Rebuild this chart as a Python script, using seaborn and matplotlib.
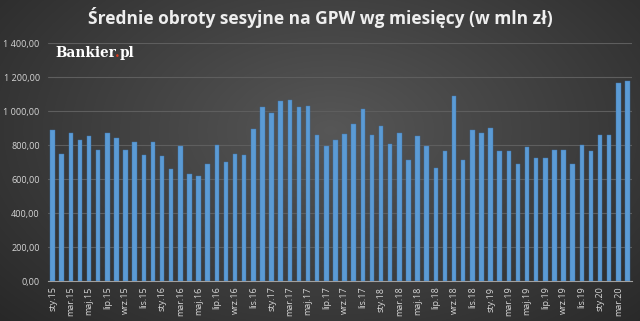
import numpy as np
import pandas as pd
import matplotlib
matplotlib.use("Agg")
import matplotlib.pyplot as plt
import seaborn as sns

months_pl = ["sty", "lut", "mar", "kwi", "maj", "cze", "lip", "sie", "wrz", "paź", "lis", "gru"]
years = ["15", "16", "17", "18", "19", "20"]
categories = [f"{m}.{y}" for y in years for m in months_pl][:64]

values = [888, 747, 870, 827, 855, 769, 870, 843, 769, 818, 741, 818,
          735, 657, 794, 627, 618, 688, 800, 700, 747, 743, 894, 1022,
          988, 1061, 1065, 1022, 1027, 859, 792, 827, 865, 924, 1012, 861,
          910, 806, 871, 710, 851, 792, 667, 763, 1090, 712, 886, 871,
          900, 763, 763, 686, 786, 724, 724, 769, 769, 690, 798, 765,
          861, 861, 1165, 1175]

yticks = [0, 200, 400, 600, 800, 1000, 1200, 1400]
ytick_labels = ["0,00", "200,00", "400,00", "600,00", "800,00", "1 000,00", "1 200,00", "1 400,00"]

df = pd.DataFrame({"miesiac": categories, "obroty": values})

sns.set_theme(style="dark")
plt.rcParams['font.family'] = ['Open Sans', 'DejaVu Sans']

fig = plt.figure(figsize=(6.4, 3.21), dpi=100)

# background radial gradient
bg = fig.add_axes([0, 0, 1, 1], zorder=-1)
yy, xx = np.mgrid[0:321, 0:640]
r = np.sqrt(((xx - 330) / 420.0) ** 2 + ((yy - 130) / 260.0) ** 2)
val = np.clip(0.34 - 0.17 * r, 0.16, 0.34)
img = np.dstack([val, val, val])
bg.imshow(img, aspect="auto", extent=[0, 1, 0, 1])
bg.set_axis_off()

ax = fig.add_axes([0.075, 0.1246, 0.9125, 0.7414])
ax.set_facecolor((0, 0, 0, 0))

sns.barplot(data=df, x="miesiac", y="obroty", color="#5b9bd5", width=0.48,
            saturation=1, ax=ax, zorder=3, edgecolor="#3f78b0", linewidth=0.3)

ax.set_ylim(0, 1400)
ax.set_xlim(-0.5, len(categories) - 0.5)
ax.set_yticks(yticks)
ax.set_yticklabels(ytick_labels)
for t in yticks[1:]:
    ax.axhline(t, color="#5e5e5e", linewidth=0.8, zorder=1)

ax.set_xticks(range(0, len(categories), 2))
ax.set_xticklabels(categories[::2], rotation=90)
ax.set_xticks(np.arange(-0.5, len(categories), 2), minor=True)
ax.tick_params(axis="x", which="major", length=0, pad=4, labelsize=6.5, colors="#d6d6d6")
ax.tick_params(axis="x", which="minor", length=3, width=0.8, color="#a0a0a0", direction="out")
ax.tick_params(axis="y", length=0, pad=6, labelsize=6.5, colors="#d6d6d6")

ax.set_xlabel("")
ax.set_ylabel("")
ax.grid(False)
for s in ["top", "right", "left"]:
    ax.spines[s].set_visible(False)
ax.spines["bottom"].set_color("#a0a0a0")
ax.spines["bottom"].set_linewidth(0.8)

fig.text(0.5, 0.945, "Średnie obroty sesyjne na GPW wg miesięcy (w mln zł)",
         ha="center", va="center", color="#eeeeee", fontsize=12.5, fontweight="bold")

# logo "Bankier.pl" with a red dot, built from three adjacent texts
lx, ly = 0.087, 0.822
fs = 9.8
kw = dict(fontsize=fs, fontweight="bold", family="DejaVu Serif", va="baseline")
renderer = fig.canvas.get_renderer()
inv = fig.transFigure.inverted()

def width_of(s):
    t = fig.text(lx, ly, s, ha="left", **kw)
    bb = t.get_window_extent(renderer=renderer).transformed(inv)
    t.remove()
    return bb.x1 - bb.x0

w_b = width_of("Bankier")
w_bd = width_of("Bankier.")
w_all = width_of("Bankier.pl")
fig.text(lx, ly, "Bankier", color="white", ha="left", **kw)
fig.text(lx + w_bd, ly, ".", color="#e03a1e", ha="right", **kw)
fig.text(lx + w_all, ly, "pl", color="white", ha="right", **kw)

fig.savefig("out.png", dpi=100)
